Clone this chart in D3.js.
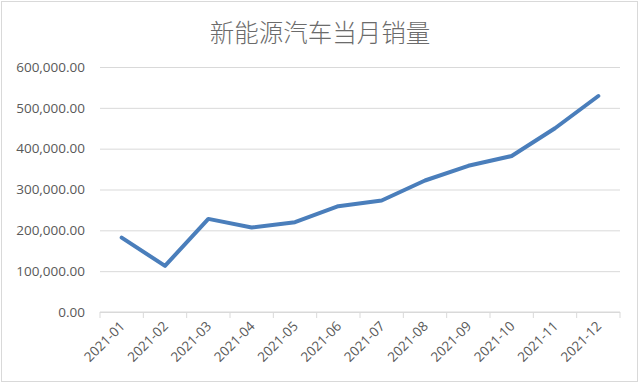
<!DOCTYPE html>
<html>
<head>
<meta charset="utf-8">
<script src="https://cdn.jsdelivr.net/npm/d3@7"></script>
<style>
  body { margin: 0; background: #fff; }
  svg { display: block; }
</style>
</head>
<body>
<svg id="chart" width="640" height="385"></svg>
<script>
'use strict'

var months = ["2021-01", "2021-02", "2021-03", "2021-04", "2021-05", "2021-06",
              "2021-07", "2021-08", "2021-09", "2021-10", "2021-11", "2021-12"];
var sales = [182000, 113000, 228000, 207000, 220000, 259000,
             273000, 322000, 358000, 382000, 450000, 529000];
var yTicks = [0, 100000, 200000, 300000, 400000, 500000, 600000];

var width = 640,
    height = 385,
    margin = {top: 67, right: 20, bottom: 73, left: 100};

var svg = d3.select("#chart");

// outer frame
svg.append("rect")
    .attr("x", 1.5).attr("y", 1.5)
    .attr("width", width - 4).attr("height", height - 5)
    .attr("fill", "#fff")
    .attr("stroke", "#d9d9d9");

svg.append("text")
    .attr("x", 320).attr("y", 42)
    .attr("text-anchor", "middle")
    .attr("font-family", "'Noto Sans CJK SC', sans-serif")
    .attr("font-weight", 300)
    .attr("font-size", 24.5)
    .attr("fill", "#6b6b6b")
    .text("新能源汽车当月销量");

var x = d3.scaleBand()
    .domain(months)
    .range([margin.left, width - margin.right]);

var y = d3.scaleLinear()
    .domain([0, 600000])
    .range([height - margin.bottom, margin.top]);

var fmt = d3.format(",.2f");

// gridlines + y labels
var yAxis = svg.append("g")
    .attr("transform", "translate(" + margin.left + ",0)")
    .call(d3.axisLeft(y).tickValues(yTicks).tickFormat(fmt)
      .tickSize(-(width - margin.left - margin.right)).tickPadding(15));
yAxis.select(".domain").remove();
yAxis.selectAll("line").attr("stroke", "#d9d9d9");
yAxis.selectAll("text")
    .attr("fill", "#595959")
    .attr("font-family", "'Open Sans', sans-serif")
    .attr("font-size", 13.5);

// x axis with ticks at band edges
var xg = svg.append("g")
    .attr("transform", "translate(0," + y(0) + ")");
xg.append("line")
    .attr("x1", margin.left).attr("x2", width - margin.right)
    .attr("stroke", "#d9d9d9");
xg.selectAll(".tk")
  .data(months.concat(["end"]))
  .enter().append("line")
    .attr("x1", function(d, i) { return margin.left + i * x.step(); })
    .attr("x2", function(d, i) { return margin.left + i * x.step(); })
    .attr("y1", 0).attr("y2", 6)
    .attr("stroke", "#d9d9d9");
xg.selectAll(".lbl")
  .data(months)
  .enter().append("text")
    .attr("transform", function(d) {
      return "translate(" + (x(d) + x.bandwidth() / 2 + 4) + ",15) rotate(-45)";
    })
    .attr("text-anchor", "end")
    .attr("font-family", "'Open Sans', sans-serif")
    .attr("font-size", 13.5)
    .attr("fill", "#595959")
    .text(function(d) { return d; });

var line = d3.line()
    .x(function(d, i) { return x(months[i]) + x.bandwidth() / 2; })
    .y(function(d) { return y(d); });

svg.append("path")
    .datum(sales)
    .attr("d", line)
    .attr("fill", "none")
    .attr("stroke", "#4a7ebb")
    .attr("stroke-width", 4)
    .attr("stroke-linejoin", "round")
    .attr("stroke-linecap", "round");
</script>
</body>
</html>
